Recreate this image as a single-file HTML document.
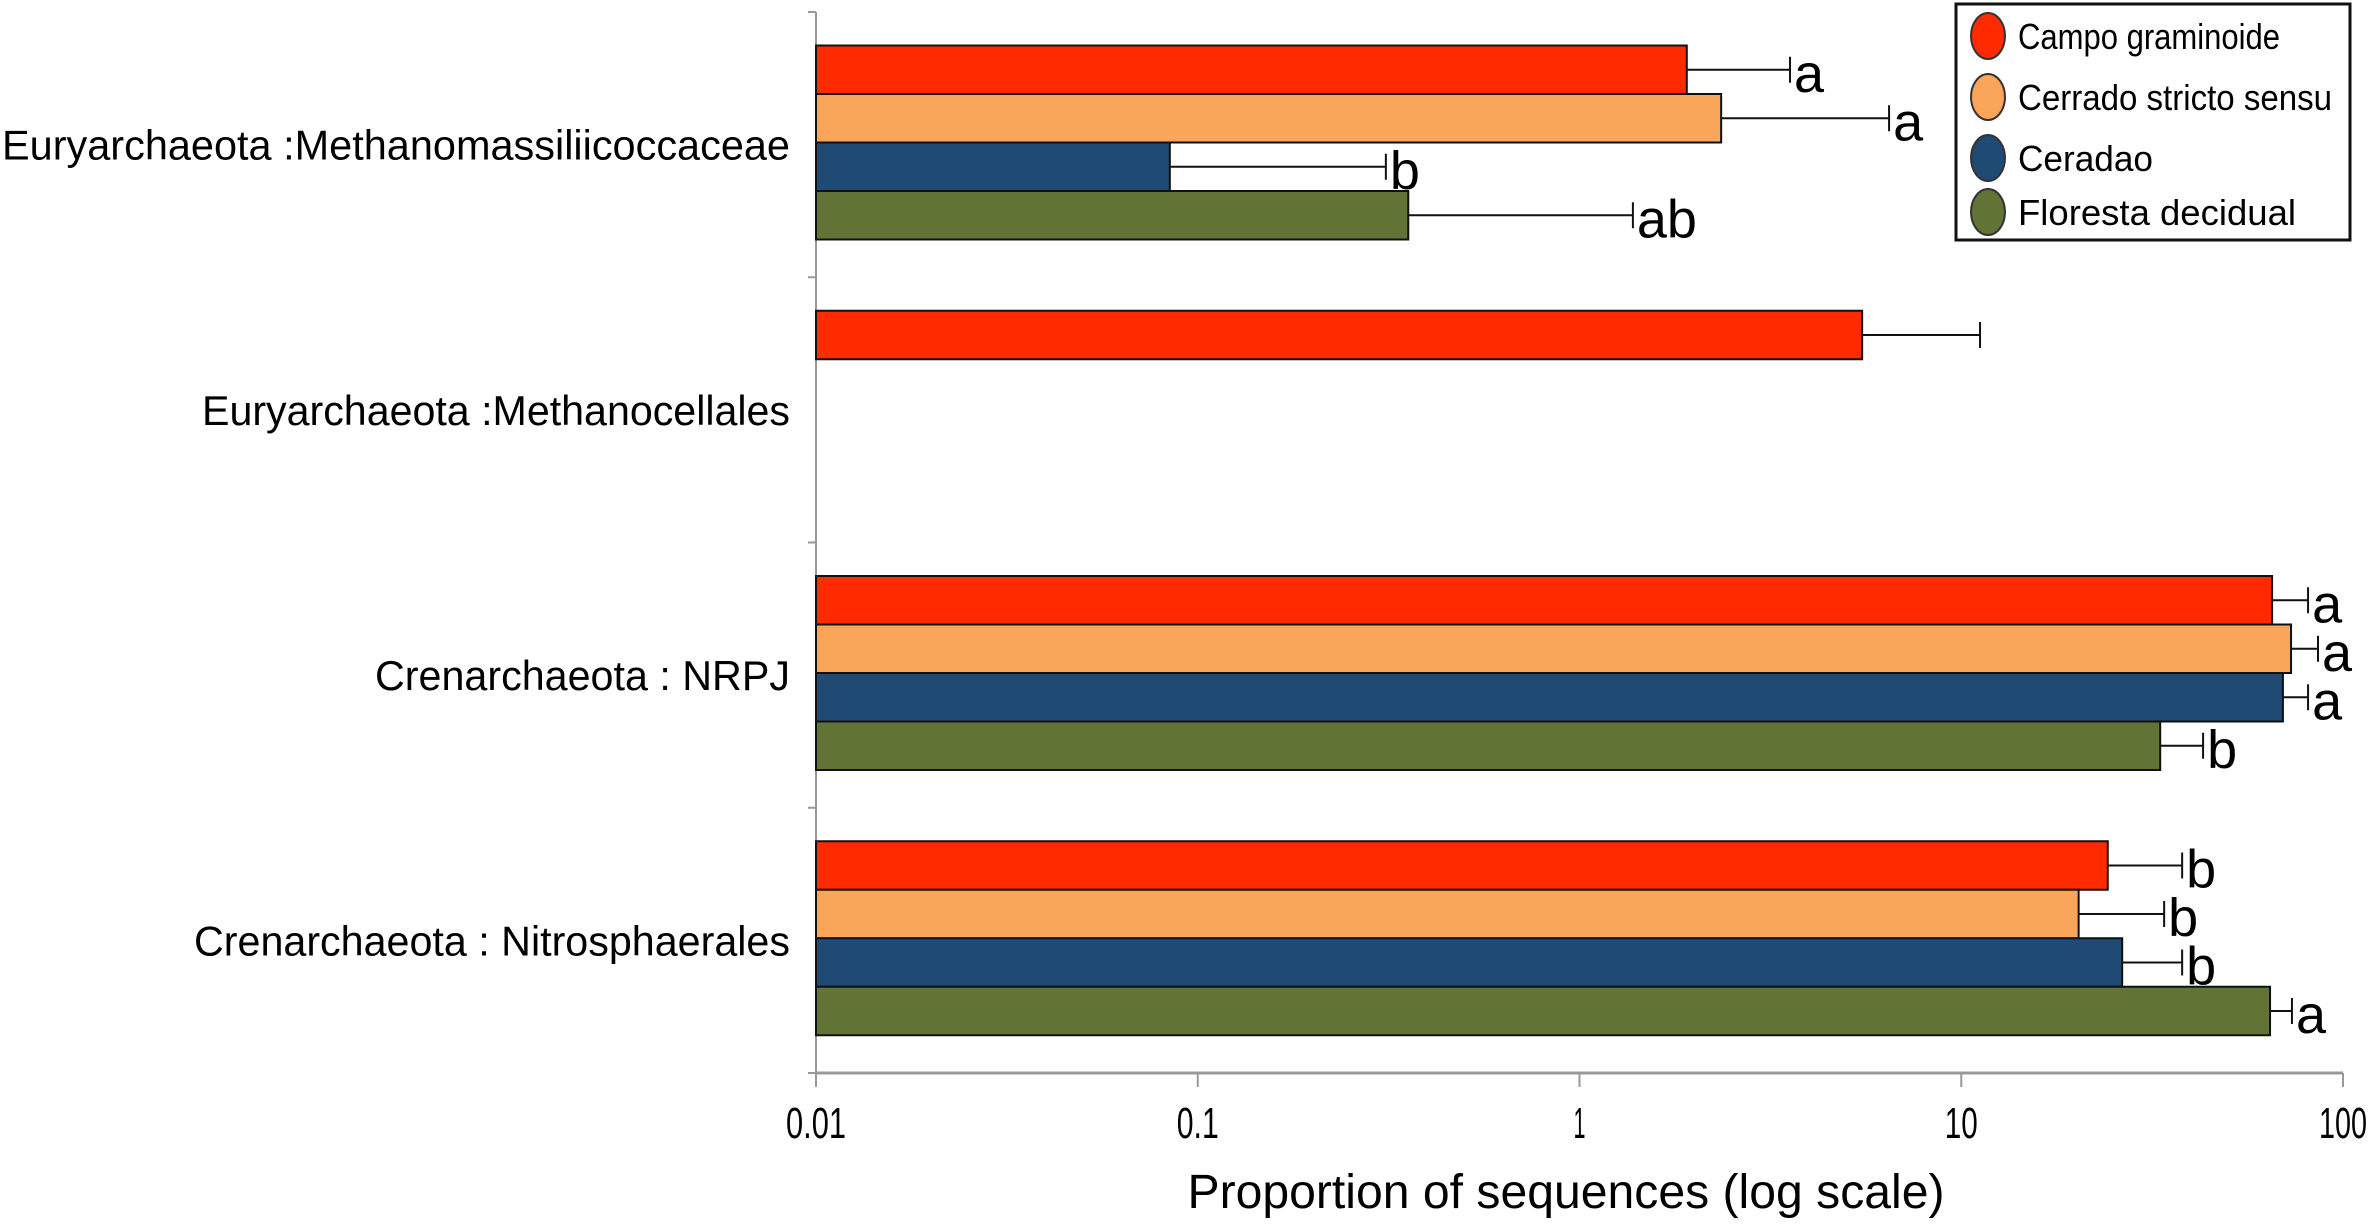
<!DOCTYPE html>
<html><head><meta charset="utf-8"><style>
html,body{margin:0;padding:0;background:#fff;}
svg{display:block;font-family:"Liberation Sans",Arial,sans-serif;}
</style></head><body>
<svg id="chart" width="2377" height="1225" viewBox="0 0 2377 1225" xmlns="http://www.w3.org/2000/svg"></svg>
<script>
const categories = ["Euryarchaeota :Methanomassiliicoccaceae","Euryarchaeota :Methanocellales","Crenarchaeota : NRPJ","Crenarchaeota : Nitrosphaerales"];
const seriesNames = ["Campo graminoide","Cerrado stricto sensu","Ceradao","Floresta decidual"];
const campoValues = [1.91, 5.5, 65.2, 24.2];
const campoErr = [3.56, 11.2, 81, 37.9];
const cerradoValues = [2.35, null, 73.1, 20.3];
const cerradoErr = [6.47, null, 86, 34.0];
const ceradaoValues = [0.0845, null, 69.6, 26.4];
const ceradaoErr = [0.311, null, 81, 37.9];
const florestaValues = [0.356, null, 33.2, 64.4];
const florestaErr = [1.38, null, 43, 73.5];
const campoLetters = ["a","","a","b"];
const cerradoLetters = ["a","","a","b"];
const ceradaoLetters = ["b","","a","b"];
const florestaLetters = ["ab","","b","a"];
const tickValues = [0.01, 0.1, 1, 10, 100];
const tickLabels = ["0.01","0.1","1","10","100"];

const colors = ["#ff2a00","#f9a55a","#1f4a73","#617335"];
const NS = "http://www.w3.org/2000/svg";
const svg = document.getElementById("chart");
const X0 = 816, X1 = 2343, Y0 = 12, Y1 = 1073;
function xScale(v){ return X0 + (Math.log10(v) - Math.log10(0.01)) / 4 * (X1 - X0); }
const band = (Y1 - Y0) / categories.length;
function yBand(i){ return Y0 + i * band; }
const barH = 48.5, barOff = 33.5;
const labelWidths = [788, 588, 415, 596];
const tickWidths = [60, 42, 12, 33, 48];
function el(tag, attrs, parent){
  const e = document.createElementNS(NS, tag);
  for (const k in attrs) e.setAttribute(k, attrs[k]);
  (parent || svg).appendChild(e);
  return e;
}

// axes
const axY = el("line",{x1:X0,y1:Y0,x2:X0,y2:Y1,stroke:"#999","stroke-width":2});


for (let i = 0; i <= categories.length; i++){
  const t = el("line",{x1:X0-8,y1:yBand(i),x2:X0,y2:yBand(i),stroke:"#999","stroke-width":2});
  
  
}
const axX = el("line",{x1:X0,y1:Y1,x2:X1,y2:Y1,stroke:"#999","stroke-width":3});


tickValues.forEach((v,i)=>{
  const x = xScale(v);
  const t = el("line",{x1:x,y1:Y1,x2:x,y2:Y1+14,stroke:"#999","stroke-width":2});
  
  
  const lb = el("text",{x:x,y:1138,"text-anchor":"middle","font-size":44,fill:"#000",textLength:tickWidths[i],lengthAdjust:"spacingAndGlyphs"});
  lb.textContent = tickLabels[i];
  
  
});
const xt = el("text",{x:1566,y:1208,"text-anchor":"middle","font-size":48,fill:"#000",textLength:757,lengthAdjust:"spacingAndGlyphs"});
xt.textContent = "Proportion of sequences (log scale)";



// category labels
categories.forEach((c,i)=>{
  const t = el("text",{x:790,y:yBand(i)+band/2+15,"text-anchor":"end","font-size":42,fill:"#000",textLength:labelWidths[i],lengthAdjust:"spacingAndGlyphs"});
  t.textContent = c;
  
  
});

// bars
const vals = [campoValues, cerradoValues, ceradaoValues, florestaValues];
const errs = [campoErr, cerradoErr, ceradaoErr, florestaErr];
const lets = [campoLetters, cerradoLetters, ceradaoLetters, florestaLetters];
categories.forEach((c,i)=>{
  for (let s = 0; s < 4; s++){
    const v = vals[s][i];
    if (v == null) continue;
    const y = yBand(i) + barOff + s*barH;
    const xe = xScale(v);
    const r = el("rect",{x:X0,y:y,width:xe-X0,height:barH,fill:colors[s],stroke:"#111","stroke-width":2});
    
    
    const ee = xScale(errs[s][i]);
    const cy = y + barH/2;
    const g = el("g",{});
    
    
    el("line",{x1:xe,y1:cy,x2:ee,y2:cy,stroke:"#111","stroke-width":2},g);
    el("line",{x1:ee,y1:cy-13,x2:ee,y2:cy+13,stroke:"#111","stroke-width":2},g);
    if (lets[s][i]){
      const t = el("text",{x:ee+4,y:cy+22,"font-size":54,fill:"#000"});
      t.textContent = lets[s][i];
      
      
    }
  }
});

// legend
const lg = el("g",{});


el("rect",{x:1956,y:4,width:394,height:236,fill:"#fff",stroke:"#111","stroke-width":3},lg);
const ly = [36, 97, 158, 212];
const legendWidths = [262, 314, 135, 278];
seriesNames.forEach((n,i)=>{
  const e = el("g",{},lg);
  
  
  el("ellipse",{cx:1988,cy:ly[i],rx:17,ry:23,fill:colors[i],stroke:"#333","stroke-width":2},e);
  const t = el("text",{x:2018,y:ly[i]+13,"font-size":36,fill:"#000",textLength:legendWidths[i],lengthAdjust:"spacingAndGlyphs"},e);
  t.textContent = n;
});
</script>
</body></html>
